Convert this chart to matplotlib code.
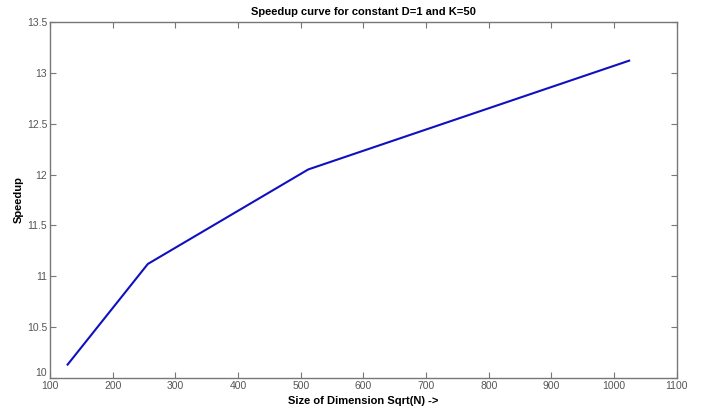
import matplotlib
matplotlib.use("Agg")
import matplotlib.pyplot as plt

# problem size (sqrt(N)) and measured speedup
dims = [128, 256, 512, 1024]
speedup = [10.13, 11.12, 12.05, 13.12]

xticks = [100, 200, 300, 400, 500, 600, 700, 800, 900, 1000, 1100]
yticks = [10, 10.5, 11, 11.5, 12, 12.5, 13, 13.5]
ytick_labels = ["10", "10.5", "11", "11.5", "12", "12.5", "13", "13.5"]

plt.rcParams["font.family"] = ["Liberation Sans", "DejaVu Sans"]

fig = plt.figure(figsize=(7.05, 4.08), dpi=100)
ax = fig.add_axes([0.071, 0.074, 0.889, 0.872])

ax.plot(dims, speedup, color="#1010c0", lw=1.5)

ax.set_xlim(100, 1100)
ax.set_ylim(10, 13.5)
ax.set_xticks(xticks)
ax.set_yticks(yticks)
ax.set_yticklabels(ytick_labels)

grey = "#555555"
for s in ax.spines.values():
    s.set_color("#777777")
    s.set_linewidth(1.0)
ax.tick_params(direction="in", top=True, right=True, length=4, width=0.8,
               colors="#777777", labelcolor=grey, labelsize=7.5, pad=2)
# MATLAB puts the bottom y label a bit higher than the x labels
ax.get_yticklabels()[0].set_va("bottom")

ax.set_title("Speedup curve for constant D=1 and K=50", fontsize=8, fontweight="bold", pad=5)
ax.set_xlabel("Size of Dimension Sqrt(N) ->", fontsize=8, fontweight="bold", labelpad=4)
ax.set_ylabel("Speedup", fontsize=8, fontweight="bold", labelpad=2)

fig.savefig("out.png", dpi=100)
